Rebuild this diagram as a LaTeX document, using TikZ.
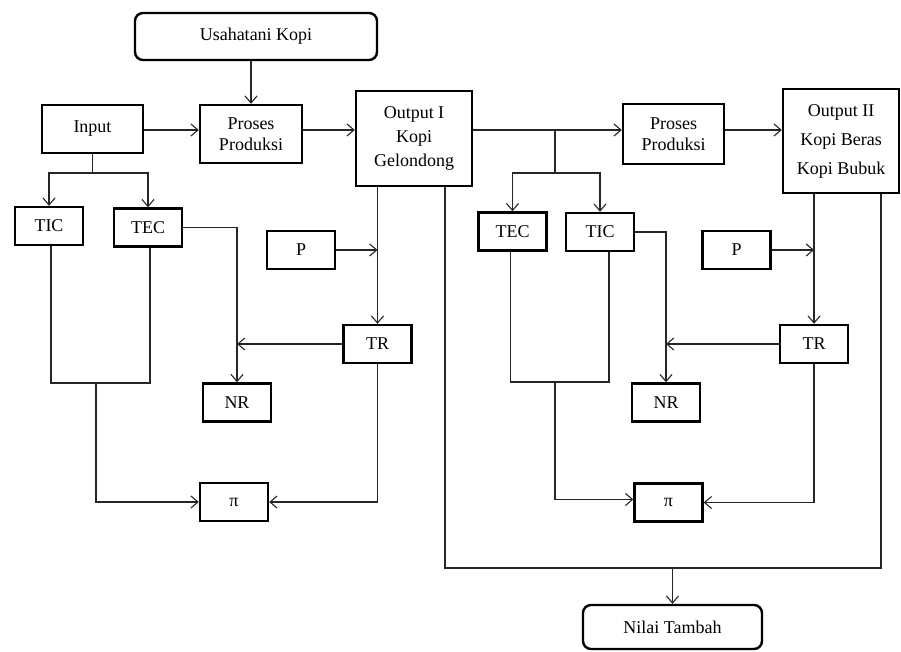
\documentclass[tikz,border=0pt]{standalone}
\usepackage{fontspec}
\setmainfont{Liberation Serif}
\usetikzlibrary{arrows.meta}
\tikzset{
  box/.style={draw=black, line width=2.4pt, fill=white, align=center, inner sep=0pt,
    font=\fontsize{18}{24}\selectfont},
  smallbox/.style={box, minimum width=68pt, minimum height=38pt},
  roundbox/.style={box, rounded corners=8pt},
  conn/.style={draw=black!85, line width=1.1pt},
  arr/.style={conn, -{Straight Barb[length=7pt,width=12pt]}}
}
\begin{document}
\begin{tikzpicture}[x=1pt,y=-1pt]
\useasboundingbox (0,0) rectangle (901,652);
% nodes
\node[roundbox, minimum width=242pt, minimum height=47pt] (usaha) at (256,36.5) {Usahatani Kopi};
\node[box, minimum width=101pt, minimum height=48pt] (input) at (92.5,129) {Input};
\node[box, minimum width=102pt, minimum height=58pt, font=\fontsize{18}{20.5}\selectfont] (proses1) at (251,134) {Proses\\Produksi};
\node[box, minimum width=116pt, minimum height=95pt] (out1) at (414,138.5) {Output I\\Kopi\\Gelondong};
\node[smallbox] (tic1) at (49,226) {TIC};
\node[smallbox] (tec1) at (148,227.5) {TEC};
\node[smallbox] (p1) at (301,250) {P};
\node[smallbox] (tr1) at (377.5,344) {TR};
\node[smallbox] (nr1) at (237,402.5) {NR};
\node[smallbox] (pi1) at (234,502) {π};
\node[box, minimum width=101pt, minimum height=60pt, font=\fontsize{18}{20.5}\selectfont] (proses2) at (673.5,134) {Proses\\Produksi};
\node[box, minimum width=116pt, minimum height=104pt, font=\fontsize{18}{29}\selectfont] (out2) at (841,141) {Output II\\Kopi Beras\\Kopi Bubuk};
\node[smallbox] (tec2) at (512.5,231.5) {TEC};
\node[smallbox] (tic2) at (600,232) {TIC};
\node[smallbox] (p2) at (736.5,250) {P};
\node[smallbox] (tr2) at (814,344) {TR};
\node[smallbox] (nr2) at (666,402.5) {NR};
\node[smallbox] (pi2) at (668.5,502.5) {π};
\node[roundbox, minimum width=179pt, minimum height=44pt] (nilai) at (672.5,627) {Nilai Tambah};
% helper coordinates
\coordinate (row) at (0,130);
\coordinate (j1) at (92.5,173);
\coordinate (j2) at (96,383);
\coordinate (j3) at (445,568);
\coordinate (j4) at (881,568);
\coordinate (j5) at (555,173);
\coordinate (j6) at (555,382);
% top row
\draw[arr] (usaha.south -| proses1.north) -- (proses1.north);
\draw[arr] (input.east |- row) -- (proses1.west |- row);
\draw[arr] (proses1.east |- row) -- (out1.west |- row);
\draw[arr] (out1.east |- row) -- (proses2.west |- row);
\draw[arr] (proses2.east |- row) -- (out2.west |- row);
% left part
\draw[arr] (input.south) -- (j1) -| (tic1.north);
\draw[arr] (j1) -| (tec1.north);
\draw[arr] (tec1.east) -| (nr1.north);
\draw[arr] (tr1.west) -- (tr1.west -| nr1.north);
\draw[arr] (p1.east) -- (p1.east -| tr1.north);
\draw[arr] (out1.south -| tr1.north) -- (tr1.north);
\draw[conn] ([xshift=2pt]tic1.south) -- ([xshift=2pt]tic1.south |- j2) -- ([xshift=2pt]tec1.south |- j2) -- ([xshift=2pt]tec1.south);
\draw[arr] (j2) |- (pi1.west);
\draw[arr] (tr1.south) |- (pi1.east);
% right part
\draw[conn] (j5 |- row) -- (j5);
\draw[arr] (j5) -| (tec2.north);
\draw[arr] (j5) -| (tic2.north);
\draw[arr] (tic2.east) -| (nr2.north);
\draw[arr] (tr2.west) -- (tr2.west -| nr2.north);
\draw[arr] (p2.east) -- (p2.east -| tr2.north);
\draw[arr] (out2.south -| tr2.north) -- (tr2.north);
\draw[conn] ([xshift=-2pt]tec2.south) -- ([xshift=-2pt]tec2.south |- j6) -- ([xshift=9pt]tic2.south |- j6) -- ([xshift=9pt]tic2.south);
\draw[arr] (j6) |- ([yshift=3pt]pi2.west);
\draw[arr] (tr2.south) |- (pi2.east);
% value added
\draw[conn] (out1.south -| j3) -- (j3) -- (j4) -- (out2.south -| j4);
\draw[arr] (j3 -| nilai.north) -- (nilai.north);
\end{tikzpicture}
\end{document}
